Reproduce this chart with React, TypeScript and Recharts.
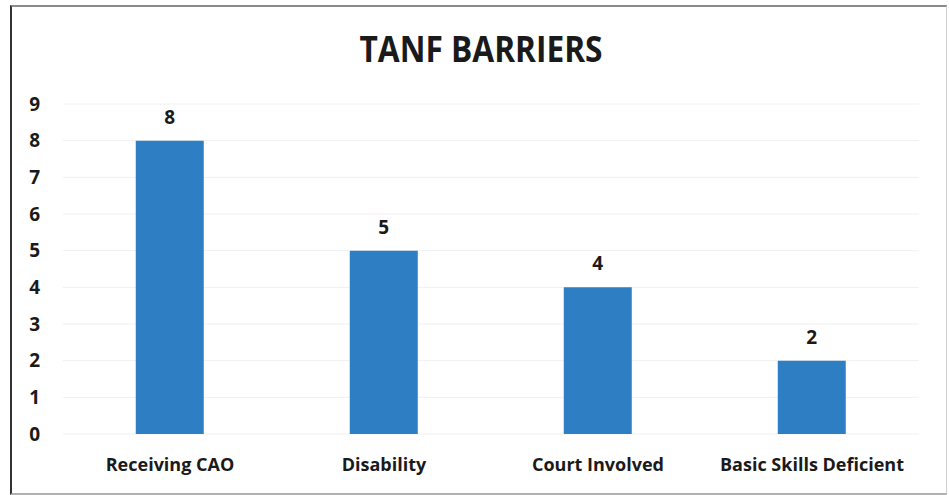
import React from "react";
import { BarChart, Bar, XAxis, YAxis, CartesianGrid, LabelList } from "recharts";

const categories = ["Receiving CAO", "Disability", "Court Involved", "Basic Skills Deficient"];
const counts = [8, 5, 4, 2];
const yTicks = [0, 1, 2, 3, 4, 5, 6, 7, 8, 9];

const data = categories.map((name, i) => ({ name, count: counts[i] }));

const font = "'Open Sans', sans-serif";
const ink = "#1a1a1a";

export default function App() {
  return (
    <div
      style={{
        position: "absolute",
        left: 0,
        top: 0,
        width: 949,
        height: 495,
        background: "#fff",
        fontFamily: font,
      }}
    >
      <div
        style={{
          position: "absolute",
          left: 10,
          top: 5,
          width: 934,
          height: 486,
          borderTop: "2px solid #8a8a8a",
          borderLeft: "2px solid #333",
          borderRight: "1px solid #d0d0d0",
          borderBottom: "2px solid #b0b0b0",
        }}
      />
      <div
        style={{
          position: "absolute",
          left: 0,
          top: 24,
          width: 962,
          textAlign: "center",
          fontSize: 36,
          lineHeight: "50px",
          fontWeight: 700,
          color: ink,
          transform: "scaleX(0.88)",
          transformOrigin: "481px 0",
        }}
      >
        TANF BARRIERS
      </div>
      <div style={{ position: "absolute", left: 0, top: 0 }}>
        <BarChart
          width={949}
          height={495}
          data={data}
          margin={{ top: 104, right: 30, left: 0, bottom: 0 }}
          barCategoryGap="34%"
        >
          <CartesianGrid vertical={false} stroke="#f0f0f0" />
          <XAxis
            dataKey="name"
            height={61}
            axisLine={false}
            tickLine={false}
            tickSize={0}
            tickMargin={24}
            tick={{ fill: ink, fontSize: 18, fontWeight: 700, fontFamily: font }}
          />
          <YAxis
            width={63}
            domain={[0, 9]}
            ticks={yTicks}
            axisLine={false}
            tickLine={false}
            tickSize={0}
            tickMargin={23}
            tick={{ fill: ink, fontSize: 19, fontWeight: 700, fontFamily: font }}
          />
          <Bar dataKey="count" fill="#2e7ec4" isAnimationActive={false}>
            <LabelList
              dataKey="count"
              position="top"
              offset={17}
              style={{ fill: ink, fontSize: 19, fontWeight: 700, fontFamily: font }}
            />
          </Bar>
        </BarChart>
      </div>
    </div>
  );
}
